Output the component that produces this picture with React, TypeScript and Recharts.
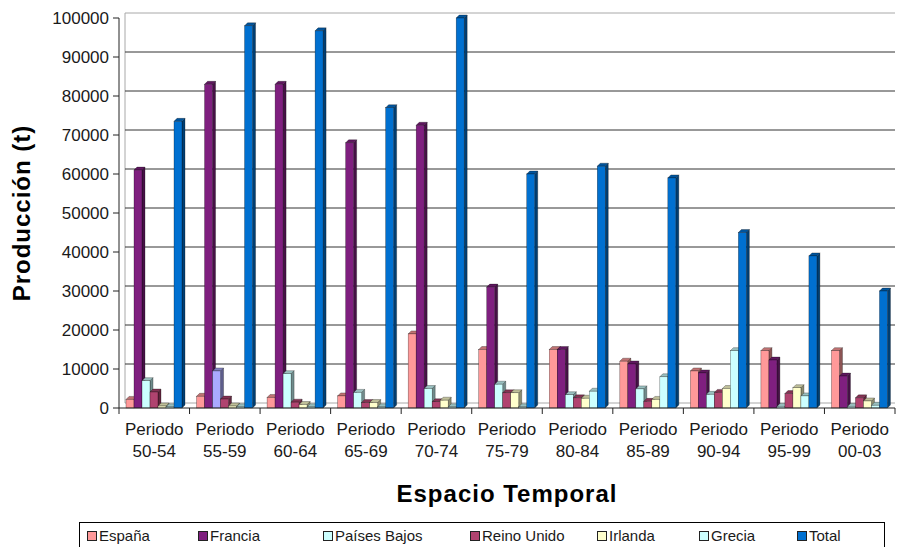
import React from 'react';
import { BarChart, Bar, XAxis, YAxis, CartesianGrid, Cell } from 'recharts';

// Production (t) by five-year period and country
const periods = ['50-54', '55-59', '60-64', '65-69', '70-74', '75-79', '80-84', '85-89', '90-94', '95-99', '00-03'];
const espana = [2200, 3000, 2700, 3100, 19000, 15000, 15000, 12000, 9500, 14700, 14700];
const francia = [61000, 83000, 83000, 68000, 72500, 31000, 15000, 11300, 9000, 12300, 8200];
const paisesBajos = [7000, 9500, 8800, 4000, 5000, 6100, 3400, 4900, 3500, 400, 400];
const reinoUnido = [4100, 2300, 1500, 1400, 1600, 3900, 2600, 1700, 4000, 3700, 2600];
const irlanda = [500, 500, 900, 1400, 2000, 3900, 2500, 2200, 5000, 5200, 1800];
const grecia = [300, 300, 300, 300, 300, 300, 4300, 8000, 14700, 3100, 700];
const total = [73500, 98000, 96700, 77000, 100000, 60000, 62000, 59000, 45000, 39000, 30000];
const yTicks = [0, 10000, 20000, 30000, 40000, 50000, 60000, 70000, 80000, 90000, 100000];

const series = [
  { key: 'espana', name: 'España', color: '#FF9999', values: espana },
  { key: 'francia', name: 'Francia', color: '#7F1F7F', values: francia },
  { key: 'paisesBajos', name: 'Países Bajos', color: '#CCFFFF', values: paisesBajos },
  { key: 'reinoUnido', name: 'Reino Unido', color: '#B0436F', values: reinoUnido },
  { key: 'irlanda', name: 'Irlanda', color: '#FFFFCC', values: irlanda },
  { key: 'grecia', name: 'Grecia', color: '#CCFFFF', values: grecia },
  { key: 'total', name: 'Total', color: '#0070D0', values: total },
];

// one Países Bajos bar carries its own fill
const paisesBajosHighlight = { index: 1, color: '#AAAAFF' };

const data = periods.map((p, i) => {
  const row: Record<string, any> = { periodo: p };
  series.forEach((s) => { row[s.key] = s.values[i]; });
  return row;
});

// layout
const W = 897;
const H = 547;
const PLOT_LEFT = 119;
const PLOT_TOP = 18;
const PLOT_W = 776;
const PLOT_H = 390;
const DEPTH = 3;
const WALL = { dx: 6, dy: 5 };
const FONT = '"Liberation Sans", Arial, sans-serif';

// left edge of each legend entry inside the legend box
const legendLeft = [7, 118, 243, 390, 517, 619, 717];

function shade(hex: string, f: number) {
  const n = parseInt(hex.slice(1), 16);
  const r = Math.round(((n >> 16) & 255) * f);
  const g = Math.round(((n >> 8) & 255) * f);
  const b = Math.round((n & 255) * f);
  return `rgb(${r},${g},${b})`;
}

// front face plus top and right faces for the extruded look
const Bar3D = (props: any) => {
  const { x, y, width, height, fill } = props;
  if (x == null || y == null) return null;
  const h = Math.max(height, 0);
  const d = DEPTH;
  const edge = 'rgba(0,0,0,0.55)';
  return (
    <g>
      <polygon
        points={`${x + width},${y} ${x + width + d},${y - d} ${x + width + d},${y + h - d} ${x + width},${y + h}`}
        fill={shade(fill, 0.55)}
        stroke={edge}
        strokeWidth={0.5}
      />
      <polygon
        points={`${x},${y} ${x + d},${y - d} ${x + width + d},${y - d} ${x + width},${y}`}
        fill={shade(fill, 0.75)}
        stroke={edge}
        strokeWidth={0.5}
      />
      <rect x={x} y={y} width={width} height={h} fill={fill} stroke={edge} strokeWidth={0.5} />
    </g>
  );
};

const XTick = (props: any) => {
  const { x, index, payload } = props;
  const band = PLOT_W / periods.length;
  const axisY = PLOT_TOP + PLOT_H;
  return (
    <g>
      <line x1={x - band / 2} x2={x - band / 2} y1={axisY} y2={axisY + 6} stroke="#222" />
      {index === periods.length - 1 && (
        <line x1={x + band / 2} x2={x + band / 2} y1={axisY} y2={axisY + 6} stroke="#222" />
      )}
      <text x={x} y={435} textAnchor="middle" fontSize={17} fontFamily={FONT} fill="#1a1a1a">Periodo</text>
      <text x={x} y={457} textAnchor="middle" fontSize={17} fontFamily={FONT} fill="#1a1a1a">{payload.value}</text>
    </g>
  );
};

const gridY = (v: number) => PLOT_TOP + PLOT_H * (1 - v / 100000) - WALL.dy;

export default function App() {
  return (
    <div style={{ position: 'absolute', left: 0, top: 0, width: W, height: H, background: '#fff' }}>
      <BarChart
        width={W}
        height={H}
        data={data}
        margin={{ top: PLOT_TOP, right: W - PLOT_LEFT - PLOT_W, bottom: 89, left: 0 }}
        barSize={8}
        barGap={0}
      >
        {/* back wall: edges in light grey */}
        <CartesianGrid
          x={PLOT_LEFT + WALL.dx}
          y={PLOT_TOP - WALL.dy}
          width={PLOT_W - WALL.dx}
          height={PLOT_H}
          stroke="#A8A8A8"
          horizontalCoordinatesGenerator={() => [gridY(0), gridY(100000)]}
          verticalCoordinatesGenerator={() => [PLOT_LEFT + WALL.dx]}
        />
        {/* back wall: value lines */}
        <CartesianGrid
          x={PLOT_LEFT + WALL.dx}
          y={PLOT_TOP - WALL.dy}
          width={PLOT_W - WALL.dx}
          height={PLOT_H}
          stroke="#333"
          vertical={false}
          horizontalCoordinatesGenerator={() => yTicks.slice(1, -1).map(gridY)}
        />
        <XAxis
          dataKey="periodo"
          height={50}
          interval={0}
          tickLine={false}
          axisLine={{ stroke: '#222' }}
          tick={<XTick />}
          label={{
            value: 'Espacio Temporal',
            position: 'insideBottom',
            content: () => (
              <text x={507} y={502} textAnchor="middle" fontSize={24} fontWeight="bold" letterSpacing={1} fontFamily={FONT} fill="#000">
                Espacio Temporal
              </text>
            ),
          }}
        />
        <YAxis
          width={PLOT_LEFT}
          domain={[0, 100000]}
          ticks={yTicks}
          interval={0}
          axisLine={{ stroke: '#222' }}
          tickLine={{ stroke: '#222' }}
          tickSize={6}
          tickMargin={4}
          tick={{ fontSize: 17, fontFamily: FONT, fill: '#1a1a1a' }}
          label={{
            value: 'Producción  (t)',
            position: 'insideLeft',
            content: () => (
              <text
                x={0}
                y={0}
                transform="translate(30,213) rotate(-90)"
                textAnchor="middle"
                fontSize={24}
                fontWeight="bold"
                letterSpacing={1}
                fontFamily={FONT}
                fill="#000"
              >
                Producción (t)
              </text>
            ),
          }}
        />
        {series.map((s) => (
          <Bar key={s.key} dataKey={s.key} name={s.name} fill={s.color} shape={<Bar3D />} isAnimationActive={false}>
            {s.key === 'paisesBajos'
              ? data.map((_, i) => (
                  <Cell key={i} fill={i === paisesBajosHighlight.index ? paisesBajosHighlight.color : s.color} />
                ))
              : null}
          </Bar>
        ))}
      </BarChart>
      <div
        style={{
          position: 'absolute',
          left: 79,
          top: 522,
          width: 806,
          height: 32,
          border: '1px solid #000',
          boxSizing: 'border-box',
          fontFamily: FONT,
          fontSize: 15,
          color: '#1a1a1a',
        }}
      >
        {series.map((s, i) => (
          <div key={s.key} style={{ position: 'absolute', left: legendLeft[i], top: 4, display: 'flex', alignItems: 'center', whiteSpace: 'nowrap' }}>
            <span style={{ display: 'inline-block', width: 8, height: 8, border: '1px solid #222', background: s.color, marginRight: 2 }} />
            <span>{s.name}</span>
          </div>
        ))}
      </div>
    </div>
  );
}
